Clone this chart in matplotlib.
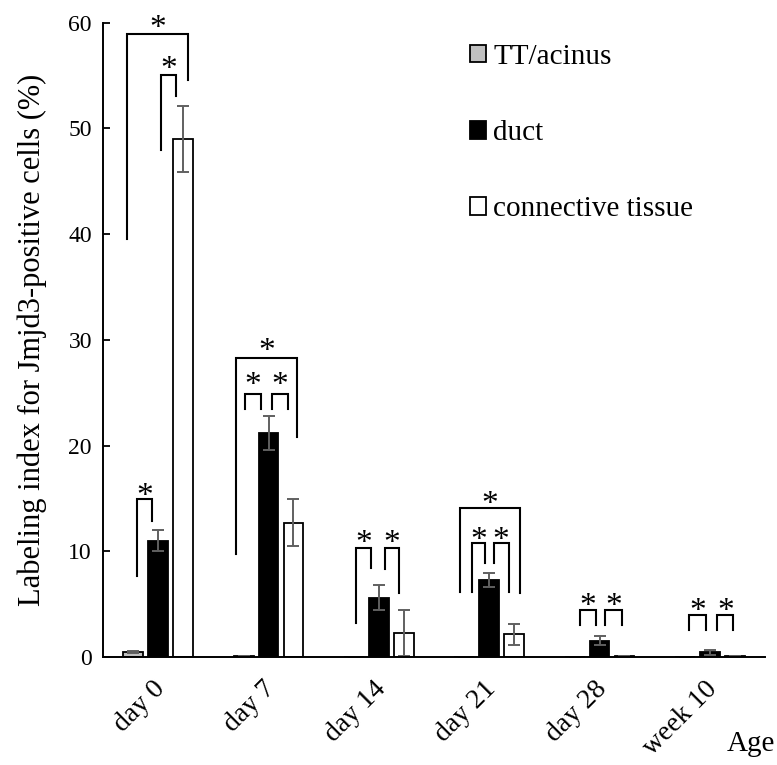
import numpy as np
import matplotlib.pyplot as plt
from matplotlib.patches import Patch
import matplotlib.transforms as mtransforms

plt.rcParams['font.family'] = ['Liberation Serif', 'DejaVu Serif']

ages = ["day 0", "day 7", "day 14", "day 21", "day 28", "week 10"]
series = ["TT/acinus", "duct", "connective tissue"]

tt = [0.45, 0.1, 0.03, 0.03, 0.03, 0.03]
tt_err = [0.1, 0.03, 0, 0, 0, 0]
duct = [11.0, 21.2, 5.6, 7.3, 1.55, 0.45]
duct_err = [1.0, 1.6, 1.2, 0.65, 0.45, 0.25]
conn = [49.0, 12.7, 2.25, 2.15, 0.05, 0.05]
conn_err = [3.1, 2.2, 2.2, 1.0, 0, 0]

# significance brackets: group, left x, right x (offset from group centre),
# top, left leg bottom, right leg bottom, star height
brackets = [
    (0, -0.28, 0.266, 58.9, 39.5, 54.6, 60.3),
    (0, 0.025, 0.158, 55.1, 48.0, 53.1, 56.4),
    (0, -0.195, -0.054, 14.9, 7.7, 12.9, 16.0),
    (1, -0.296, 0.258, 28.25, 9.7, 20.8, 29.7),
    (1, -0.215, -0.064, 24.9, 23.5, 23.5, 26.5),
    (1, 0.027, 0.177, 24.9, 23.5, 23.5, 26.5),
    (2, -0.21, -0.068, 10.35, 3.2, 8.4, 11.6),
    (2, 0.052, 0.181, 10.35, 8.3, 6.1, 11.6),
    (3, -0.269, 0.283, 14.07, 6.15, 6.1, 15.3),
    (3, -0.158, -0.037, 10.75, 6.15, 8.86, 11.85),
    (3, 0.041, 0.177, 10.75, 8.86, 6.15, 11.85),
    (4, -0.18, -0.032, 4.45, 3.0, 3.0, 5.6),
    (4, 0.052, 0.203, 4.45, 3.0, 3.0, 5.6),
    (5, -0.188, -0.037, 3.97, 2.55, 2.55, 5.1),
    (5, 0.068, 0.211, 3.97, 2.55, 2.55, 5.1),
]

fig = plt.figure(figsize=(7.77, 7.65), dpi=100)
ax = fig.add_axes([0.1326, 0.1412, 0.852, 0.829])

x = np.arange(len(ages))
w = 0.18
step = 0.226
errkw = dict(ecolor="#606060", elinewidth=1.4, capsize=4.5, capthick=1.4)
ax.bar(x - step, tt, w, yerr=tt_err, color="#c0c0c0", edgecolor="black",
       linewidth=1.3, error_kw=errkw)
ax.bar(x, duct, w, yerr=duct_err, color="black", edgecolor="black",
       linewidth=1.3, error_kw=errkw)
ax.bar(x + step, conn, w, yerr=conn_err, color="white", edgecolor="black",
       linewidth=1.3, error_kw=errkw)

for g, xl, xr, top, lb, rb, sy in brackets:
    ax.plot([g + xl, g + xl, g + xr, g + xr], [lb, top, top, rb],
            color="black", lw=1.5, clip_on=False, solid_joinstyle="miter")
    ax.annotate("*", (g + (xl + xr) / 2, sy), xytext=(0, -12.5),
                textcoords="offset points", ha="center", va="baseline",
                fontsize=24, annotation_clip=False)

ax.set_xlim(-0.5, 5.5)
ax.set_ylim(0, 60)
ax.set_yticks(range(0, 61, 10))
ax.tick_params(axis="y", direction="in", length=5, width=1.3, labelsize=17, pad=8)
ax.tick_params(axis="x", length=0, pad=14)
ax.set_xticks(x)
ax.set_xticklabels(ages, rotation=45, ha="right", fontsize=20)
offset = mtransforms.ScaledTranslation(0.12, 0, fig.dpi_scale_trans)
for lab in ax.get_xticklabels():
    lab.set_transform(lab.get_transform() + offset)

for s in ["top", "right"]:
    ax.spines[s].set_visible(False)
for s in ["left", "bottom"]:
    ax.spines[s].set_linewidth(1.4)

ax.set_ylabel("Labeling index for Jmjd3-positive cells (%)", fontsize=22, labelpad=15)
fig.text(0.935, 0.018, "Age", fontsize=21)

handles = [Patch(facecolor="#c0c0c0", edgecolor="black", linewidth=1.3),
           Patch(facecolor="black", edgecolor="black", linewidth=1.3),
           Patch(facecolor="white", edgecolor="black", linewidth=1.3)]
ax.legend(handles, series, loc="upper left", bbox_to_anchor=(470 / 777, 1 - 44 / 765),
          bbox_transform=fig.transFigure, frameon=False, fontsize=21,
          handlelength=0.55, handleheight=0.55, handletextpad=0.25,
          labelspacing=1.72, borderpad=0, borderaxespad=0)

fig.savefig("out.png", dpi=100)
